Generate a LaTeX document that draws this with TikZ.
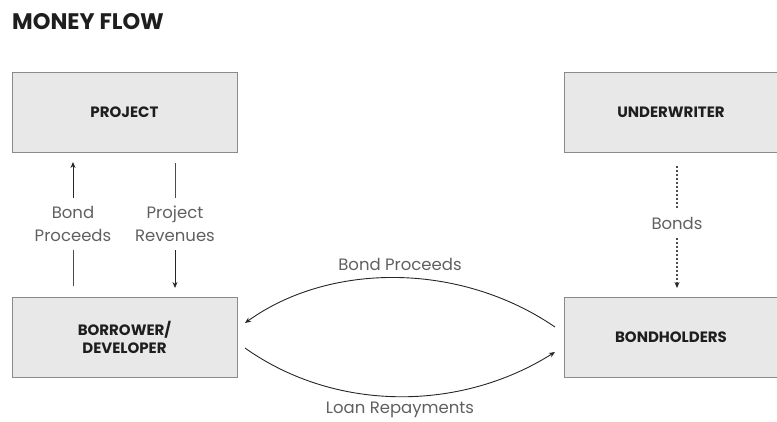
\documentclass[tikz,border=0pt]{standalone}
\usepackage{fontspec}
\setmainfont{Poppins}
\usetikzlibrary{arrows.meta,calc}
\definecolor{boxfill}{HTML}{E8E8E8}
\definecolor{boxline}{HTML}{8A8A8A}
\definecolor{labelgray}{HTML}{606060}
\definecolor{titlecol}{HTML}{1E1E1E}
\begin{document}
\begin{tikzpicture}[x=1pt,y=-1pt,
  boxnode/.style={draw=boxline, fill=boxfill, line width=0.8pt, minimum width=225pt, minimum height=80pt, inner sep=0pt, font=\fontsize{15}{18}\selectfont\bfseries, text=titlecol, align=center},
  lbl/.style={font=\fontsize{16.5}{23}\selectfont, text=labelgray, align=center, inner sep=0pt},
  flow/.style={line width=0.9pt, draw=black!85, -{Stealth[length=6pt,width=5pt]}},
  plainline/.style={line width=0.9pt, draw=black!70},
  dotline/.style={line width=1.4pt, draw=black!70, dash pattern=on 2pt off 2pt}
]
\useasboundingbox (0,0) rectangle (777,421);
\node[anchor=west, font=\fontsize{22.5}{26}\selectfont\bfseries, text=titlecol, inner sep=0pt] (title) at (12,22) {MONEY FLOW};

\node[boxnode] (project) at (124.5,112) {PROJECT};
\node[boxnode] (borrower) at (124.5,337) {BORROWER/\\DEVELOPER};
\node[boxnode, minimum width=214pt] (under) at (671,112) {UNDERWRITER};
\node[boxnode, minimum width=214pt] (holders) at (671,337) {BONDHOLDERS};

% Bond Proceeds (up)
\node[lbl] (bp) at (73,224) {Bond\\Proceeds};
\coordinate (bpA) at (73,286);
\coordinate (bpB) at (73,250);
\coordinate (bpC) at (73,198);
\coordinate (bpD) at (73,162);
\draw[plainline] (bpA) -- (bpB);
\draw[flow] (bpC) -- (bpD);

% Project Revenues (down)
\node[lbl] (pr) at (175,224) {Project\\Revenues};
\coordinate (prA) at (175,163);
\coordinate (prB) at (175,198);
\coordinate (prC) at (175,250);
\coordinate (prD) at (175,288);
\draw[plainline] (prA) -- (prB);
\draw[flow] (prC) -- (prD);

% Bonds (dotted)
\node[lbl] (bonds) at (677,223) {Bonds};
\coordinate (bdA) at (677,166);
\coordinate (bdB) at (677,208);
\coordinate (bdC) at (677,238);
\coordinate (bdD) at (677,288);
\coordinate (bdE) at (677,284);
\draw[dotline] (bdA) -- (bdB);
\draw[dotline] (bdC) -- (bdE);
\draw[flow] (bdE) -- (bdD);

% Curved arrows
\coordinate (cTopR) at (555,327);
\coordinate (cTopL) at (245,323);
\coordinate (cBotL) at (245,348);
\coordinate (cBotR) at (555,352);
\draw[flow] (cTopR) .. controls (460,262) and (330,262) .. (cTopL);
\draw[flow] (cBotL) .. controls (335,412) and (460,412) .. (cBotR);
\node[lbl] (bp2) at (400,264) {Bond Proceeds};
\node[lbl] (lr) at (400,410) {Loan Repayments};
\end{tikzpicture}
\end{document}
